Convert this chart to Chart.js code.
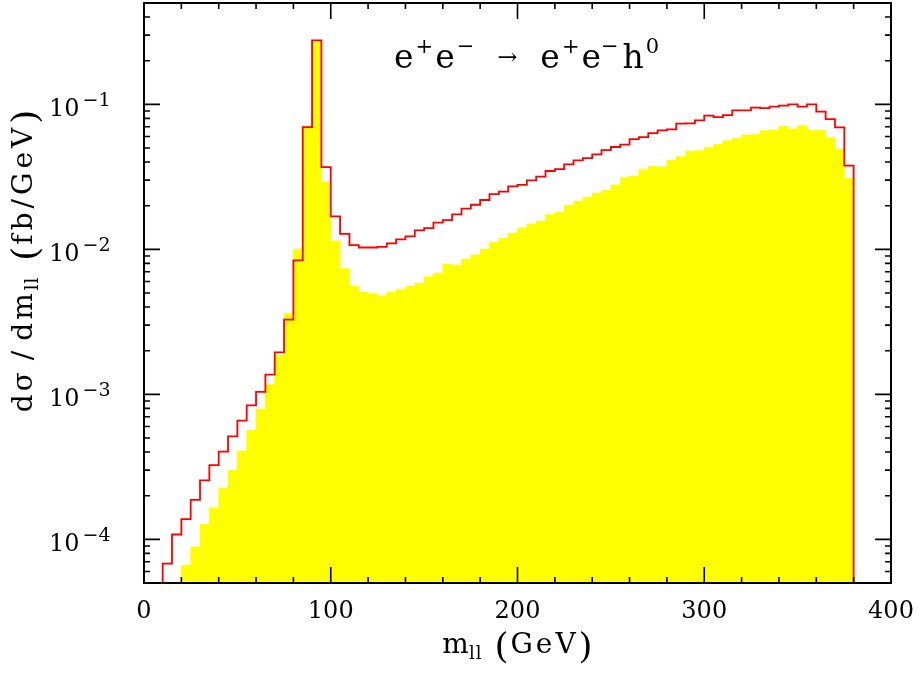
<!DOCTYPE html>
<html>
<head>
<meta charset="utf-8">
<script src="https://cdn.jsdelivr.net/npm/chart.js@4.4.1/dist/chart.umd.min.js"></script>
<style>
  html, body { margin: 0; padding: 0; background: #fff; }
  #wrap { width: 921px; height: 677px; }
</style>
</head>
<body>
<div id="wrap"><canvas id="chart" width="921" height="677"></canvas></div>
<script>
// histogram bins are 5 GeV wide
const binWidth = 5;
const redFirstBin = 10;
const yellowFirstBin = 20;

// red outline, one value per bin starting at 10 GeV (fb/GeV)
const redValues = [
    6.80e-5, 1.08e-4, 1.38e-4, 1.87e-4, 2.55e-4, 3.25e-4, 4.03e-4, 5.13e-4, 6.59e-4, 8.40e-4,
    1.04e-3, 1.37e-3, 1.95e-3, 3.28e-3, 8.40e-3, 6.97e-2, 0.276, 3.69e-2, 1.69e-2, 1.28e-2,
    1.07e-2, 1.03e-2, 1.03e-2, 1.04e-2, 1.10e-2, 1.17e-2, 1.23e-2, 1.35e-2, 1.40e-2, 1.53e-2,
    1.59e-2, 1.74e-2, 1.91e-2, 2.03e-2, 2.19e-2, 2.40e-2, 2.50e-2, 2.72e-2, 2.78e-2, 2.99e-2,
    3.17e-2, 3.47e-2, 3.58e-2, 3.86e-2, 4.11e-2, 4.26e-2, 4.52e-2, 4.84e-2, 5.08e-2, 5.27e-2,
    5.75e-2, 5.95e-2, 6.34e-2, 6.62e-2, 6.72e-2, 7.36e-2, 7.40e-2, 7.76e-2, 8.36e-2, 8.17e-2,
    8.44e-2, 9.09e-2, 9.10e-2, 9.49e-2, 9.43e-2, 9.64e-2, 9.79e-2, 1.00e-1, 9.64e-2, 1.00e-1,
    8.91e-2, 7.92e-2, 6.94e-2, 3.78e-2
];

// yellow filled histogram, one value per bin starting at 20 GeV
const yellowValues = [
    6.62e-5, 8.85e-5, 1.27e-4, 1.65e-4, 2.26e-4, 2.99e-4, 4.06e-4, 5.65e-4, 7.88e-4, 1.17e-3,
    1.86e-3, 3.60e-3, 1.00e-2, 7.08e-2, 0.270, 2.91e-2, 1.14e-2, 7.36e-3, 5.58e-3, 5.05e-3,
    4.95e-3, 4.78e-3, 5.09e-3, 5.28e-3, 5.56e-3, 5.83e-3, 6.48e-3, 6.83e-3, 7.92e-3, 7.76e-3,
    8.53e-3, 9.14e-3, 1.00e-2, 1.12e-2, 1.19e-2, 1.29e-2, 1.40e-2, 1.50e-2, 1.56e-2, 1.74e-2,
    1.81e-2, 2.01e-2, 2.14e-2, 2.28e-2, 2.43e-2, 2.55e-2, 2.78e-2, 3.12e-2, 3.20e-2, 3.55e-2,
    3.74e-2, 3.69e-2, 4.13e-2, 4.36e-2, 4.74e-2, 4.80e-2, 5.03e-2, 5.30e-2, 5.62e-2, 5.83e-2,
    6.14e-2, 6.18e-2, 6.59e-2, 6.65e-2, 7.05e-2, 6.76e-2, 7.13e-2, 6.62e-2, 6.62e-2, 5.89e-2,
    4.89e-2, 3.09e-2
];

const xRange = [0, 400];
const yRange = [5e-5, 0.5];
const xTickLabels = [0, 100, 200, 300, 400];
const xMinorStep = 20;
const yTickValues = [1e-4, 1e-3, 1e-2, 1e-1];
const yTickExponents = ['\u22124', '\u22123', '\u22122', '\u22121'];

const FONT = '"DejaVu Serif", serif';

// red step outline: rises from the bottom at the first edge, drops at the last
const buildRedPoints = () => {
    const pts = [{x: redFirstBin, y: yRange[0]}];
    redValues.forEach((v, i) => pts.push({x: redFirstBin + i * binWidth, y: v}));
    const end = redFirstBin + redValues.length * binWidth;
    pts.push({x: end, y: redValues[redValues.length - 1]});
    pts.push({x: end, y: yRange[0]});
    return pts;
}

const buildYellowBars = () => yellowValues.map((v, i) => ({
    x: yellowFirstBin + (i + 0.5) * binWidth,
    y: v
}));

const partWidth = (ctx, p) => {
    ctx.font = `${p.size}px ${FONT}`;
    const sp = p.spacing || 0;
    let w = ctx.measureText(p.text).width;
    if (sp) w += sp * p.text.length;
    return (p.gap || 0) + w;
}

const richWidth = (ctx, parts) => parts.reduce((s, p) => s + partWidth(ctx, p), 0);

const drawRich = (ctx, parts, x, y) => {
    parts.forEach(p => {
        ctx.font = `${p.size}px ${FONT}`;
        x += p.gap || 0;
        const dy = p.dy || 0;
        if (p.spacing) {
            for (const ch of p.text) {
                ctx.fillText(ch, x, y + dy);
                x += ctx.measureText(ch).width + p.spacing;
            }
        } else {
            ctx.fillText(p.text, x, y + dy);
            x += ctx.measureText(p.text).width;
        }
    });
    return x;
}

const titleParts = [
    {text: 'e', size: 33},
    {text: '+', size: 21, dy: -15, gap: 2},
    {text: 'e', size: 33, gap: 2},
    {text: '\u2212', size: 21, dy: -15, gap: 2},
    {text: '\u2192', size: 24, dy: -3, gap: 23},
    {text: 'e', size: 33, gap: 23},
    {text: '+', size: 21, dy: -15, gap: 2},
    {text: 'e', size: 33, gap: 2},
    {text: '\u2212', size: 21, dy: -15, gap: 0},
    {text: 'h', size: 33, gap: 4},
    {text: '0', size: 21, dy: -15, gap: 2}
];

const xTitleParts = [
    {text: 'm', size: 28},
    {text: 'll', size: 18, dy: 6, spacing: 1},
    {text: '(', size: 36, dy: 5, gap: 12},
    {text: 'GeV', size: 28, spacing: 3, gap: 2},
    {text: ')', size: 36, dy: 5}
];

const yTitleParts = [
    {text: 'd\u03c3', size: 28, spacing: 3},
    {text: '/', size: 28, gap: 9},
    {text: 'dm', size: 28, gap: 10, spacing: 3},
    {text: 'll', size: 18, dy: 6, spacing: 1},
    {text: '(', size: 36, dy: 5, gap: 16},
    {text: 'fb/GeV', size: 28, spacing: 4, gap: 2},
    {text: ')', size: 36, dy: 5}
];

const framePlugin = {
    id: 'frame',
    afterDatasetsDraw(chart) {
        const {ctx, chartArea: a} = chart;
        const x = chart.scales.x;
        const y = chart.scales.y;
        ctx.save();
        ctx.strokeStyle = '#000';
        ctx.fillStyle = '#000';

        // ticks, inside on all four sides
        ctx.lineWidth = 1.6;
        ctx.beginPath();
        for (let v = xRange[0]; v <= xRange[1]; v += xMinorStep) {
            const px = x.getPixelForValue(v);
            const len = xTickLabels.includes(v) ? 16 : 6;
            ctx.moveTo(px, a.bottom); ctx.lineTo(px, a.bottom - len);
            ctx.moveTo(px, a.top); ctx.lineTo(px, a.top + len);
        }
        for (let e = -5; e <= -1; e++) {
            for (let m = 1; m <= 9; m++) {
                const v = m * Math.pow(10, e);
                if (v < yRange[0] * 0.999 || v > yRange[1] * 1.001) continue;
                const py = y.getPixelForValue(v);
                const len = m === 1 ? 16 : 6;
                ctx.moveTo(a.left, py); ctx.lineTo(a.left + len, py);
                ctx.moveTo(a.right, py); ctx.lineTo(a.right - len, py);
            }
        }
        ctx.stroke();

        ctx.lineWidth = 2;
        ctx.strokeRect(a.left, a.top, a.right - a.left, a.bottom - a.top);

        // x tick labels
        ctx.font = `24px ${FONT}`;
        ctx.textAlign = 'center';
        ctx.textBaseline = 'alphabetic';
        xTickLabels.forEach(v => {
            ctx.fillText(String(v), x.getPixelForValue(v), a.bottom + 35);
        });

        // y tick labels 10^n
        ctx.textAlign = 'left';
        yTickValues.forEach((v, i) => {
            const py = y.getPixelForValue(v);
            drawRich(ctx, [
                {text: '10', size: 24},
                {text: yTickExponents[i], size: 19, dy: -10, gap: 3}
            ], 49, py + 11.5);
        });

        // title inside the frame
        drawRich(ctx, titleParts, 394, 68);

        // x axis title
        const xw = richWidth(ctx, xTitleParts);
        drawRich(ctx, xTitleParts, (a.left + a.right) / 2 - xw / 2, 653);

        // y axis title, rotated
        const yw = richWidth(ctx, yTitleParts);
        ctx.translate(32, 261);
        ctx.rotate(-Math.PI / 2);
        drawRich(ctx, yTitleParts, -yw / 2, 0);

        ctx.restore();
    }
};

const drawChart = () => {
    const ctx = document.getElementById('chart').getContext('2d');
    new Chart(ctx, {
        type: 'bar',
        data: {
            datasets: [
                {
                    type: 'line',
                    data: buildRedPoints(),
                    borderColor: '#ff0000',
                    borderWidth: 1.8,
                    pointRadius: 0,
                    stepped: 'before',
                    fill: false,
                    order: 0
                },
                {
                    type: 'bar',
                    data: buildYellowBars(),
                    backgroundColor: '#ffff00',
                    borderWidth: 0,
                    barPercentage: 1,
                    categoryPercentage: 1,
                    grouped: false,
                    order: 1
                }
            ]
        },
        options: {
            responsive: false,
            animation: false,
            layout: {padding: {left: 144, right: 30, top: 3, bottom: 94}},
            plugins: {legend: {display: false}, tooltip: {enabled: false}},
            scales: {
                x: {type: 'linear', min: xRange[0], max: xRange[1], offset: false, display: false},
                y: {type: 'logarithmic', min: yRange[0], max: yRange[1], display: false}
            }
        },
        plugins: [framePlugin]
    });
}

drawChart();
</script>
</body>
</html>
